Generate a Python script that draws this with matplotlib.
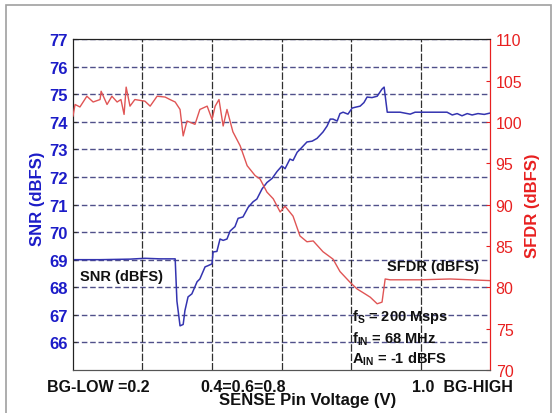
import numpy as np
import matplotlib
matplotlib.use('Agg')
from matplotlib import pyplot as plt
from matplotlib.patches import Rectangle

plt.rcParams['font.family'] = ['Liberation Sans', 'DejaVu Sans']
plt.rcParams['mathtext.fontset'] = 'custom'
plt.rcParams['mathtext.rm'] = 'Liberation Sans:bold'
plt.rcParams['mathtext.bf'] = 'Liberation Sans:bold'
plt.rcParams['mathtext.it'] = 'Liberation Sans:bold'

# SNR trace (left axis), x = sense pin position, y = dBFS
snr_x = [0.000, 0.078, 0.164, 0.207, 0.250, 0.294, 0.299, 0.308, 0.317, 0.322,
         0.331, 0.342, 0.357, 0.365, 0.380, 0.388, 0.400, 0.403, 0.414, 0.423,
         0.432, 0.443, 0.452, 0.466, 0.475, 0.489, 0.504, 0.518, 0.529, 0.544,
         0.558, 0.573, 0.587, 0.601, 0.610, 0.624, 0.633, 0.645, 0.653, 0.673,
         0.688, 0.702, 0.719, 0.731, 0.740, 0.748, 0.760, 0.768, 0.777, 0.791,
         0.803, 0.812, 0.826, 0.837, 0.846, 0.860, 0.875, 0.889, 0.895, 0.904,
         0.941, 0.970, 0.984, 1.076, 1.091, 1.105, 1.119, 1.134, 1.148, 1.165,
         1.183, 1.200]
snr_y = [69.00, 69.00, 69.02, 69.05, 69.03, 69.03, 67.50, 66.60, 66.65, 67.15,
         67.65, 67.76, 68.20, 68.30, 68.74, 68.78, 68.85, 69.28, 69.30, 69.75,
         69.70, 69.75, 70.04, 70.20, 70.50, 70.55, 70.90, 71.10, 71.20, 71.57,
         71.80, 71.95, 72.20, 72.40, 72.30, 72.65, 72.60, 72.90, 73.00, 73.27,
         73.30, 73.40, 73.63, 73.85, 74.10, 74.10, 74.03, 74.30, 74.35, 74.28,
         74.50, 74.53, 74.57, 74.70, 74.90, 74.88, 74.93, 75.19, 75.26, 74.35,
         74.35, 74.28, 74.35, 74.35, 74.25, 74.30, 74.22, 74.30, 74.25, 74.30,
         74.27, 74.32]

# SFDR trace (right axis)
sfdr_x = [0.000, 0.006, 0.020, 0.040, 0.058, 0.078, 0.081, 0.098, 0.112, 0.127,
          0.138, 0.147, 0.153, 0.164, 0.178, 0.207, 0.222, 0.242, 0.265, 0.279,
          0.294, 0.308, 0.317, 0.328, 0.351, 0.365, 0.386, 0.400, 0.409, 0.420,
          0.432, 0.443, 0.460, 0.481, 0.501, 0.524, 0.538, 0.558, 0.576, 0.596,
          0.610, 0.633, 0.653, 0.673, 0.691, 0.719, 0.748, 0.768, 0.797, 0.817,
          0.840, 0.855, 0.875, 0.889, 0.898, 0.912, 0.999, 1.085, 1.200]
sfdr_y = [100.7, 102.1, 101.8, 103.1, 102.4, 102.7, 103.7, 102.1, 103.1, 102.4,
          102.7, 100.9, 104.2, 101.9, 102.7, 102.5, 101.9, 103.1, 103.0, 102.7,
          102.4, 101.5, 98.3, 100.1, 99.7, 101.5, 101.9, 100.3, 101.9, 102.7,
          99.5, 101.5, 98.8, 97.1, 94.7, 93.5, 93.1, 91.5, 90.7, 89.1,
          89.8, 88.6, 86.2, 85.5, 85.6, 84.3, 83.4, 81.9, 80.6, 79.8,
          79.2, 78.8, 78.0, 78.2, 81.0, 80.9, 80.9, 81.0, 80.8]

snr_ticks = [66, 67, 68, 69, 70, 71, 72, 73, 74, 75, 76, 77]
sfdr_ticks = [70, 75, 80, 85, 90, 95, 100, 105, 110]
grid_x = [0.2, 0.4, 0.6, 0.8, 1.0]
xlabels = ['BG-LOW =0.2', '0.4=0.6=0.8', '1.0  BG-HIGH']
xlabel_pos = [0.072, 0.489, 1.12]

blue = '#1c1cc8'
red = '#e82020'

fig = plt.figure(figsize=(5.57, 4.14), dpi=100)
fig.patches.append(Rectangle((0.011, -0.01), 0.978, 0.996, transform=fig.transFigure,
                             fill=False, edgecolor='#a0a0a0', lw=1.2))

ax = fig.add_axes([0.131, 0.104, 0.749, 0.799])
ax.set_xlim(0, 1.2)
ax.set_ylim(65, 77)
ax.set_yticks(snr_ticks)
ax.set_xticks(grid_x)
ax.set_xticklabels([])
ax.tick_params(axis='x', length=0)
ax.tick_params(axis='y', direction='in', length=3, colors='#303030',
               labelcolor=blue, pad=4)
for lab in ax.get_yticklabels():
    lab.set_fontweight('bold')
    lab.set_fontsize(12)
for y in snr_ticks:
    ax.axhline(y, color='#50508a', lw=1.0, ls=(0, (4, 2)), zorder=1)
for x in grid_x:
    ax.axvline(x, color='#303030', lw=0.9, ls=(0, (6, 1.5)), zorder=1)

ax.plot(snr_x, snr_y, color='#3434b0', lw=1.1, zorder=3)

ax.set_ylabel('SNR (dBFS)', color=blue, fontweight='bold', fontsize=12)
ax.yaxis.set_label_coords(-0.067, 0.52)

for pos, lab in zip(xlabel_pos, xlabels):
    ax.text(pos, -0.05, lab, transform=ax.get_xaxis_transform(), ha='center',
            va='center', fontsize=11.5, fontweight='bold', color='#111111')
fig.text(0.553, 0.032, 'SENSE Pin Voltage (V)', ha='center', va='center',
         fontsize=12, fontweight='bold', color='#111111')

note = dict(ha='left', va='center', fontsize=10.5, fontweight='bold', color='#111111')
ax.text(0.02, 68.41, 'SNR (dBFS)', **note)
ax.text(0.904, 68.78, 'SFDR (dBFS)', **note)
ax.text(0.803, 66.96, r'f$_{\mathrm{S}}$ = 200 Msps', **note)
ax.text(0.803, 66.13, r'f$_{\mathrm{IN}}$ = 68 MHz', **note)
ax.text(0.803, 65.41, r'A$_{\mathrm{IN}}$ = -1 dBFS', **note)

ax2 = ax.twinx()
ax2.set_ylim(70, 110)
ax2.set_yticks(sfdr_ticks)
ax2.tick_params(axis='y', direction='in', length=3, colors=red, labelcolor=red, pad=4)
for lab in ax2.get_yticklabels():
    lab.set_fontsize(11.5)
ax2.plot(sfdr_x, sfdr_y, color='#e05555', lw=1.0, zorder=3)
ax2.set_ylabel('SFDR (dBFS)', color=red, fontweight='bold', fontsize=12)
ax2.yaxis.set_label_coords(1.084, 0.5)

for a in (ax, ax2):
    a.spines['left'].set_color('#222222')
    a.spines['top'].set_color('#222222')
    a.spines['bottom'].set_color('#555555')
    a.spines['right'].set_color(red)

fig.savefig('out.png', dpi=100)
